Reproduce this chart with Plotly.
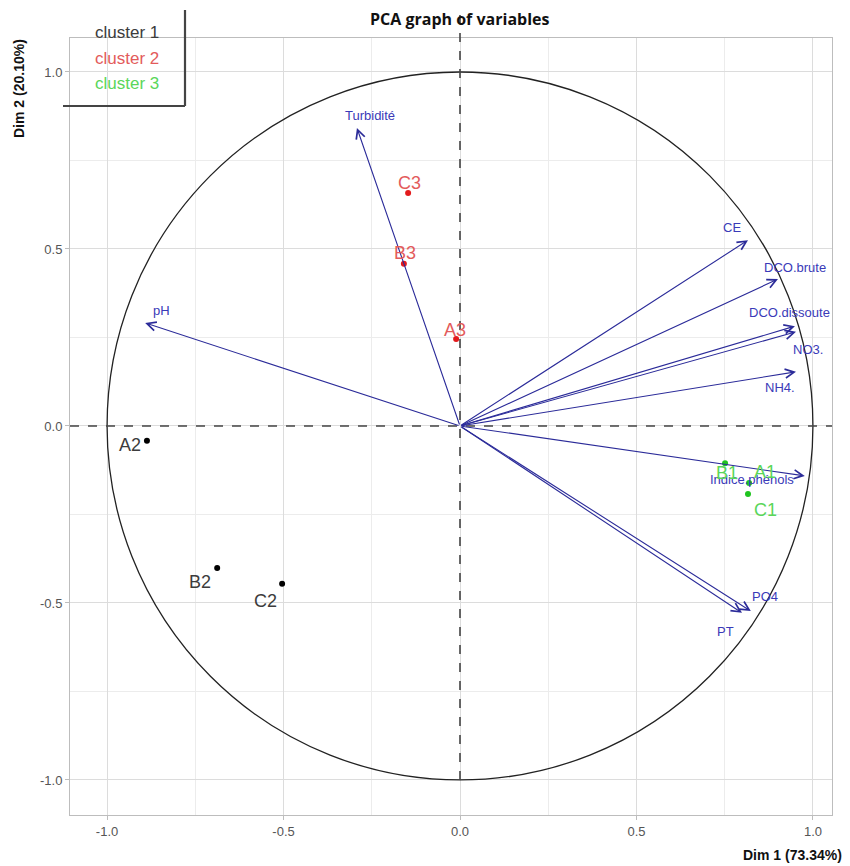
import plotly.graph_objects as go

# ---- data ----
var_names = ["Turbidité", "CE", "DCO.brute", "DCO.dissoute", "NO3.", "NH4.",
             "pH", "PT", "PO4", "Indice.phénols"]
var_dim1 = [-0.292, 0.816, 0.901, 0.949, 0.952, 0.952, -0.892, 0.799, 0.824, 0.977]
var_dim2 = [0.842, 0.525, 0.415, 0.282, 0.266, 0.153, 0.291, -0.528, -0.523, -0.141]

ind_names = ["A1", "B1", "C1", "A2", "B2", "C2", "A3", "B3", "C3"]
ind_dim1 = [0.819, 0.751, 0.816, -0.887, -0.688, -0.504, -0.011, -0.159, -0.147]
ind_dim2 = [-0.161, -0.105, -0.192, -0.042, -0.401, -0.446, 0.246, 0.458, 0.658]
ind_cluster = [3, 3, 3, 1, 1, 1, 2, 2, 2]

cluster_names = ["cluster 1", "cluster 2", "cluster 3"]

tick_vals = [-1.0, -0.5, 0.0, 0.5, 1.0]
tick_text = ["-1.0", "-0.5", "0.0", "0.5", "1.0"]
minor_vals = [-0.75, -0.25, 0.25, 0.75]

# ---- style ----
OFF = 8  # page body margin
PAGE_W, PAGE_H = 850, 866
W, H = PAGE_W - OFF, PAGE_H - OFF
PL, PR, PT_, PB = 70, 832, 38, 815  # plot area on the page
L, R, T, B = PL - OFF, W - (PR - OFF), PT_ - OFF, H - (PB - OFF)
XR = [-1.105, 1.054]
YR = [-1.099, 1.096]

point_col = {1: "#000000", 2: "#e31a1c", 3: "#1fc41f"}
label_col = {1: "#3c3c3c", 2: "#e35b5b", 3: "#5ad65a"}
legend_col = ["#3c3c3c", "#e35b5b", "#5ad65a"]
arrow_col = "#2b2b99"
var_text_col = "#3a3ab8"

# label pixel offsets (dx, dy, screen px; dy positive = down)
var_off = [(13, -12), (-16, -13), (17, -12), (-5, -14), (12, 18), (-16, 16),
           (16, -12), (-17, 19), (14, -15), (-53, 4)]
ind_off = [(16, -11), (2, 10), (17, 16), (-17, 4), (-17, 14), (-17, 17),
           (-1, -9), (1, -11), (1, -10)]

FONT = "Liberation Sans, Arial, sans-serif"

pw = PR - PL
ph = PB - PT_


def px2paper(px, py):
    return (px - PL) / pw, (PB - py) / ph


fig = go.Figure()

# circle
fig.add_shape(type="circle", xref="x", yref="y", x0=-1, y0=-1, x1=1, y1=1,
              line=dict(color="#222222", width=1.3), layer="above")
# dashed axes
fig.add_shape(type="line", xref="paper", yref="y", x0=0, x1=1, y0=0, y1=0,
              line=dict(color="#444444", width=1.6, dash="dash"), layer="above")
y_bottom = (-1 - YR[0]) / (YR[1] - YR[0])
_, y_top = px2paper(0, 10)
fig.add_shape(type="line", xref="x", yref="paper", x0=0, x1=0, y0=y_bottom, y1=y_top,
              line=dict(color="#444444", width=1.6, dash="dash"), layer="above")

# individuals
for c in (1, 2, 3):
    idx = [i for i, k in enumerate(ind_cluster) if k == c]
    fig.add_trace(go.Scatter(
        x=[ind_dim1[i] for i in idx], y=[ind_dim2[i] for i in idx],
        mode="markers", marker=dict(color=point_col[c], size=6),
        showlegend=False, hoverinfo="skip"))

annotations = []
# arrows
for n, x, y in zip(var_names, var_dim1, var_dim2):
    annotations.append(dict(x=x, y=y, ax=0, ay=0, xref="x", yref="y",
                            axref="x", ayref="y", text="", showarrow=True,
                            arrowhead=5, arrowsize=1.6, arrowwidth=1.1,
                            arrowcolor=arrow_col, standoff=0, startstandoff=0))
for n, x, y, (dx, dy) in zip(var_names, var_dim1, var_dim2, var_off):
    annotations.append(dict(x=x, y=y, xref="x", yref="y", text=n, showarrow=False,
                            xshift=dx, yshift=-dy, xanchor="center", yanchor="middle",
                            font=dict(family=FONT, size=13, color=var_text_col)))
# individual labels
for n, x, y, c, (dx, dy) in zip(ind_names, ind_dim1, ind_dim2, ind_cluster, ind_off):
    annotations.append(dict(x=x, y=y, xref="x", yref="y", text=n, showarrow=False,
                            xshift=dx, yshift=-dy, xanchor="center", yanchor="middle",
                            font=dict(family=FONT, size=18, color=label_col[c])))

# title
tx, ty = px2paper(460, 19)
annotations.append(dict(x=tx, y=ty, xref="paper", yref="paper", text="<b>PCA graph of variables</b>",
                        showarrow=False, xanchor="center", yanchor="middle",
                        font=dict(family="Open Sans, sans-serif", size=16, color="#111111")))
# axis titles
ax_x, ax_y = px2paper(844, 855)
annotations.append(dict(x=ax_x, y=ax_y, xref="paper", yref="paper", text="<b>Dim 1 (73.34%)</b>",
                        showarrow=False, xanchor="right", yanchor="middle",
                        font=dict(family=FONT, size=14, color="#111111")))
ay_x, ay_y = px2paper(19, 88)
annotations.append(dict(x=ay_x, y=ay_y, xref="paper", yref="paper", text="<b>Dim 2 (20.10%)</b>",
                        showarrow=False, xanchor="center", yanchor="middle", textangle=-90,
                        font=dict(family=FONT, size=14, color="#111111")))
# legend
for i, (name, col) in enumerate(zip(cluster_names, legend_col)):
    lx, ly = px2paper(127, 33 + 25 * i)
    annotations.append(dict(x=lx, y=ly, xref="paper", yref="paper", text=name,
                            showarrow=False, xanchor="center", yanchor="middle",
                            font=dict(family=FONT, size=17, color=col)))

# legend frame (right and bottom edges)
x1p, y1p = px2paper(185, 10)
x2p, y2p = px2paper(185, 106)
x3p, y3p = px2paper(63, 106)
fig.add_shape(type="line", xref="paper", yref="paper", x0=x1p, y0=y1p, x1=x2p, y1=y2p,
              line=dict(color="#444444", width=2.2))
fig.add_shape(type="line", xref="paper", yref="paper", x0=x3p, y0=y3p, x1=x2p, y1=y2p,
              line=dict(color="#444444", width=2.2))

axis_common = dict(
    tickvals=tick_vals, ticktext=tick_text, showgrid=True, gridcolor="#dcdcdc", gridwidth=1.2,
    zeroline=False, showline=True, linecolor="#bdbdbd", linewidth=1, mirror=True,
    ticks="outside", ticklen=4, tickcolor="#bdbdbd",
    tickfont=dict(family=FONT, size=13, color="#555555"),
    minor=dict(tickvals=minor_vals, showgrid=True, gridcolor="#ececec", gridwidth=1, ticks=""),
)

fig.update_layout(
    width=W, height=H,
    margin=dict(l=L, r=R, t=T, b=B),
    paper_bgcolor="white", plot_bgcolor="white",
    xaxis=dict(range=XR, **axis_common),
    yaxis=dict(range=YR, **axis_common),
    annotations=annotations,
    showlegend=False,
)

fig.write_html("out.html")
